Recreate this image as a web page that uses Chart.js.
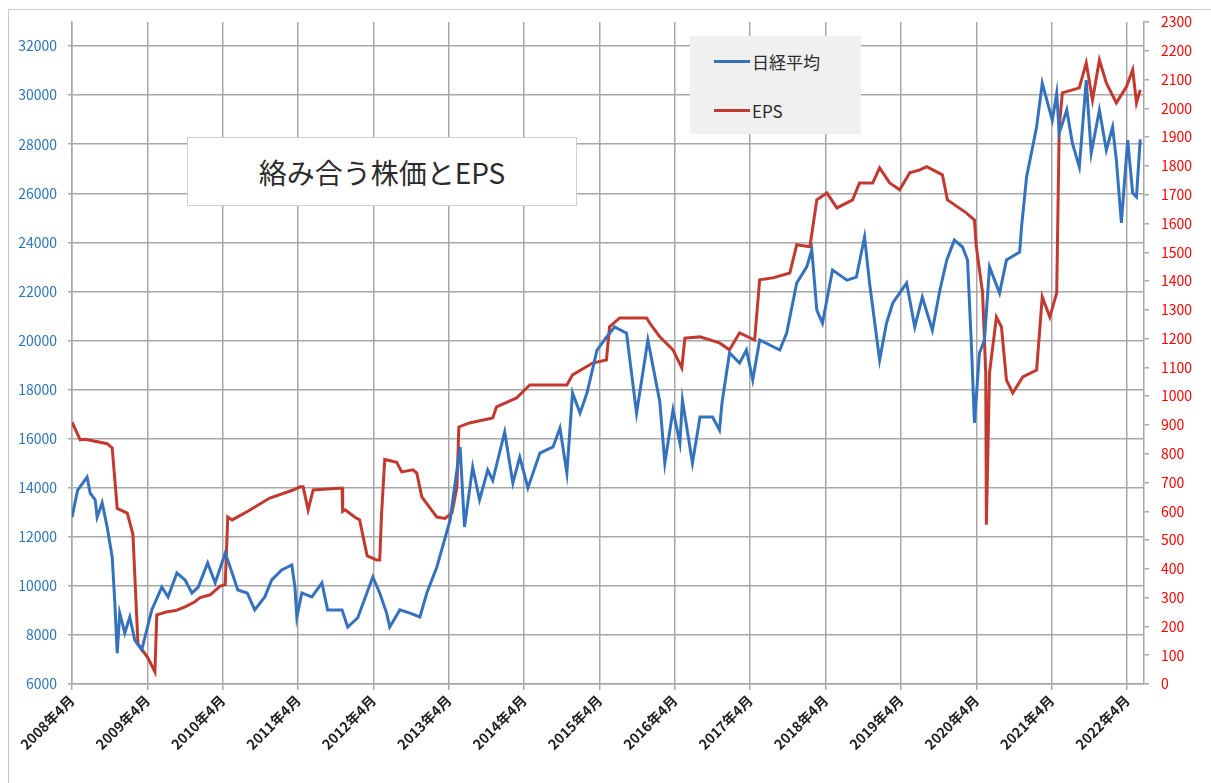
<!DOCTYPE html>
<html lang="ja">
<head>
<meta charset="UTF-8">
<title>絡み合う株価とEPS</title>
<script src="https://cdn.jsdelivr.net/npm/chart.js"></script>
<style>
  html, body { margin: 0; padding: 0; background: #fff; overflow: hidden; }
  #wrap { position: relative; width: 1211px; height: 783px; }
  #frame { position: absolute; left: 8px; top: 9px; width: 1230px; height: 800px; border: 1px solid #c8c8c8; }
  canvas { position: absolute; left: 0; top: 0; }
  .titleBox {
    position: absolute; left: 187px; top: 137px; width: 390px; height: 69px;
    background: #fff; border: 1px solid #d0d0d0; box-sizing: border-box;
    font: 28px 'Noto Sans CJK JP', sans-serif; color: #2b2b2b;
    display: flex; align-items: center; justify-content: center;
  }
  .legendBox {
    position: absolute; left: 690px; top: 36px; width: 171px; height: 98px;
    background: #f0f0f0; font: 17px 'Noto Sans CJK JP', sans-serif; color: #2b2b2b;
  }
  .legendBox .item { position: absolute; left: 24px; display: flex; align-items: center; }
  .legendBox .swatch { width: 36px; height: 3px; margin-right: 2px; }
</style>
</head>
<body>
<div id="wrap">
  <div id="frame"></div>
  <canvas id="chart" width="1211" height="783"></canvas>
  <div class="titleBox">絡み合う株価とEPS</div>
  <div class="legendBox">
    <div class="item" style="top:13px"><span class="swatch" style="background:#3572BD"></span>日経平均</div>
    <div class="item" style="top:62px"><span class="swatch" style="background:#C23A2F"></span>EPS</div>
  </div>
</div>

<script>
// x positions are months counted from 2008年4月
const tickLabels = ['2008年4月', '2009年4月', '2010年4月', '2011年4月', '2012年4月', '2013年4月', '2014年4月',
  '2015年4月', '2016年4月', '2017年4月', '2018年4月', '2019年4月', '2020年4月', '2021年4月', '2022年4月'];
const leftTicks = [6000, 8000, 10000, 12000, 14000, 16000, 18000, 20000, 22000, 24000, 26000, 28000, 30000, 32000];
const rightTicks = [0, 100, 200, 300, 400, 500, 600, 700, 800, 900, 1000, 1100, 1200, 1300, 1400, 1500,
  1600, 1700, 1800, 1900, 2000, 2100, 2200, 2300];

// 日経平均 (left axis)
const nikkeiMonth = [0,0.9,2.4,2.9,3.7,4.0,4.8,5.6,6.4,6.8,
  7.2,7.6,8.4,9.2,10.0,11.1,11.9,12.7,14.3,15.3,
  16.7,18.0,19.1,20.1,21.6,22.8,24.4,25.5,26.4,27.9,
  29.1,30.7,31.8,33.4,35.0,35.5,35.8,36.6,38.2,39.8,
  40.7,43.0,43.9,45.5,47.9,49.0,50.1,50.6,52.2,53.8,
  55.4,56.5,58.1,60.2,61.8,62.5,63.8,64.9,66.2,67.0,
  68.9,70.2,71.3,72.6,74.5,76.6,77.7,78.8,79.7,80.9,
  82.0,83.6,85.1,86.4,88.3,89.9,91.7,93.6,94.4,95.7,
  96.8,97.2,98.8,100.0,102.0,103.1,103.5,104.7,106.3,107.4,
  108.4,109.5,112.7,113.8,115.4,117.0,117.8,118.6,119.5,121.1,
  123.4,124.9,126.2,127.0,128.6,129.7,130.7,132.9,134.2,135.4,
  137.0,138.2,139.3,140.5,141.8,142.6,143.2,143.7,144.5,145.3,
  146.1,147.7,148.8,150.9,151.2,152.0,153.6,154.5,156.1,156.8,
  157.2,158.4,159.3,160.4,161.5,162.3,163.6,164.7,165.7,166.3,
  167.1,168.1,168.9,169.5,170.1];
const nikkeiValue = [12800,13900,14430,13780,13500,12800,13380,12400,11180,9420,
  7260,8890,8080,8730,7790,7390,8200,9020,9950,9550,
  10520,10240,9710,9950,10930,10120,11340,10520,9830,9710,
  9020,9550,10240,10650,10850,9950,8730,9710,9550,10120,
  9020,9020,8320,8700,10360,9710,8890,8320,9020,8890,
  8730,9710,10770,12680,15660,12400,14840,13500,14720,14300,
  16270,14190,15250,13990,15410,15660,16430,14600,17860,17040,
  17860,19610,20140,20550,20300,17040,20020,17500,15000,17170,
  15820,17570,15000,16880,16880,16350,17450,19490,19080,19610,
  18390,20020,19610,20300,22340,23000,23690,21240,20710,22870,
  22460,22580,24220,22340,19200,20710,21530,22340,20550,21770,
  20420,22060,23280,24090,23810,23280,19900,16640,19490,20020,
  23000,21930,23280,23600,24620,26660,28700,30490,28980,30080,
  28450,29390,28040,27070,30610,27640,29390,27760,28700,27350,
  24790,28170,26010,25850,28200];

// EPS (right axis)
const epsMonth = [0,1.3,2.1,5.6,6.4,7.2,8.8,9.7,10.5,12.1,
  13.2,13.5,15.0,16.5,18.0,19.5,20.4,22.0,23.6,24.4,
  24.8,25.5,28.0,31.5,35.2,36.3,36.8,37.6,38.4,43.0,
  43.1,43.5,45.0,45.8,47.0,48.5,49.0,49.3,49.8,51.7,
  52.5,54.3,54.9,55.7,57.0,58.1,59.4,60.5,61.3,61.6,
  63.3,67.0,67.6,70.8,72.9,78.8,79.7,82.9,85.1,85.6,
  87.2,91.5,92.0,93.6,95.7,97.1,97.6,100.0,103.1,104.7,
  106.3,108.7,109.5,111.6,114.3,115.4,117.5,118.6,120.2,121.8,
  124.3,125.4,127.5,128.6,130.2,131.8,133.4,135.0,136.1,138.6,
  139.4,142.4,143.7,144.0,145.0,145.5,145.6,146.1,147.2,148.0,
  148.8,149.8,151.4,153.6,154.5,155.7,156.8,157.2,157.7,160.4,
  161.5,162.5,163.6,164.7,166.3,167.9,168.9,169.5,170.1];
const epsValue = [910,848,850,835,820,610,594,520,140,90,
  42,240,250,255,268,285,300,310,340,345,
  580,570,600,646,674,685,685,605,674,681,
  600,605,580,570,445,431,431,594,780,770,
  737,744,733,650,612,580,575,594,685,893,
  907,924,963,994,1039,1039,1074,1115,1126,1241,
  1272,1272,1254,1206,1161,1098,1202,1206,1185,1161,
  1220,1195,1404,1411,1428,1526,1519,1682,1706,1654,
  1682,1741,1741,1793,1741,1717,1776,1786,1797,1769,
  1682,1637,1612,1519,1359,1081,553,1081,1275,1241,
  1056,1011,1067,1091,1345,1275,1359,1936,2054,2071,
  2158,2029,2168,2088,2019,2075,2134,2019,2064];

const FONT = "'Noto Sans CJK JP', 'Noto Sans', sans-serif";
const GRID = '#a8a8a8';

const toPoints = (xs, ys) => xs.map((x, i) => ({ x: x, y: ys[i] }));
const setTicks = list => s => { s.ticks = list.map(v => ({ value: v })); };

const chart = new Chart(document.getElementById('chart'), {
  type: 'line',
  data: {
    datasets: [{
      label: '日経平均',
      data: toPoints(nikkeiMonth, nikkeiValue),
      borderColor: '#3572BD',
      borderWidth: 3,
      pointRadius: 0,
      yAxisID: 'y'
    }, {
      label: 'EPS',
      data: toPoints(epsMonth, epsValue),
      borderColor: '#C23A2F',
      borderWidth: 3,
      pointRadius: 0,
      yAxisID: 'y1'
    }]
  },
  options: {
    responsive: false,
    animation: false,
    layout: { padding: { top: 22, left: 0, right: 0, bottom: 0 } },
    plugins: { legend: { display: false }, tooltip: { enabled: false } },
    scales: {
      x: {
        type: 'linear', min: 0, max: 170.7,
        afterBuildTicks: setTicks(tickLabels.map((t, i) => i * 12)),
        ticks: {
          autoSkip: false, minRotation: 45, maxRotation: 45, padding: 2,
          color: '#222', font: { family: FONT, size: 14, weight: 'bold' },
          callback: v => tickLabels[v / 12] || ''
        },
        grid: { color: GRID, lineWidth: 1.5, tickLength: 6 },
        border: { color: GRID, width: 1.5 },
        afterFit: s => { s.height = 99; }
      },
      y: {
        position: 'left', min: 6000, max: 32980,
        afterBuildTicks: setTicks(leftTicks),
        ticks: {
          padding: 11, color: '#2E75B6', font: { family: FONT, size: 14 },
          callback: v => String(v)
        },
        grid: { color: GRID, lineWidth: 1.5, tickLength: 4 },
        border: { color: GRID, width: 1.5 },
        afterFit: s => { s.width = 72; }
      },
      y1: {
        position: 'right', min: 0, max: 2300,
        afterBuildTicks: setTicks(rightTicks),
        ticks: {
          padding: 12, color: '#FF0000', font: { family: FONT, size: 14 },
          callback: v => String(v)
        },
        grid: { drawOnChartArea: false, color: GRID, lineWidth: 1.5, tickLength: 5 },
        border: { color: GRID, width: 1.5 },
        afterFit: s => { s.width = 67; }
      }
    }
  }
});
</script>
</body>
</html>
